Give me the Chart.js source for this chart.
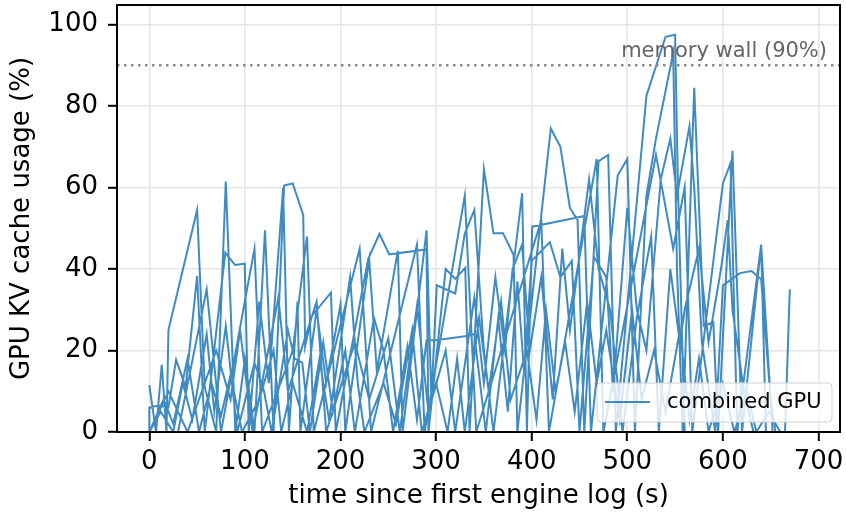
<!DOCTYPE html>
<html>
<head>
<meta charset="utf-8">
<script src="https://cdn.jsdelivr.net/npm/chart.js@4.4.0/dist/chart.umd.min.js"></script>
<style>
  html, body { margin: 0; padding: 0; background: #fff; }
  #wrap { width: 846px; height: 514px; }
</style>
</head>
<body>
<div id="wrap"><canvas id="grafico" width="846" height="514"></canvas></div>
<script>
// valores: [tempo (s), uso do cache KV (%)]
const passe1 = [[0,11.5],[7,0],[13,16.5],[18,0],[20,25],[50,54.5],[58,11],[70,0],[80,61.5],[90,0],[100,18],[110,0],[121,49.5],[130,0],[141,60.5],[150,61],[161,53.3],[163,21],[170,28.5],[190,34.2],[195,0],[229,42.5],[240.7,48.6],[251,43.6],[290,44.8],[292,0],[310,40],[320,37.6],[330.5,40.3],[335,0],[350,64.5],[360,48.8],[370,48.8],[381,43.5],[385,0],[420,74.5],[430,70],[440,55],[448,52],[455,0],[470,66.5],[480,68],[488,0],[520,82.5],[540,97],[550,97.5],[553,60],[560,0]];
const passe2 = [[0,0],[0,6],[10,6.5],[20,6],[28,17.7],[38,11],[50,38.3],[58,0],[79.5,44],[89.6,41],[99.8,41.3],[104,0],[115,32],[125,12],[140,60],[146,0],[155,32],[158,0],[175,30],[185,12],[200,31.3],[205,0],[230,42.3],[238,15],[260,44.5],[265,0],[290,49.5],[295,8],[300.7,36],[320,34],[330,48.7],[340,54.5],[350,20],[360,0],[390,58.6],[395,0],[400.5,50.4],[440,52.3],[455,53],[462,0],[490,63],[500,67],[508,0],[520,58],[530,72],[548,93],[552,40],[558,0],[570,84.5],[580,26],[590,27],[595,0],[610,69],[620,0],[640,46],[645,0]];
const passe3 = [[0,0],[12,5],[25,0],[35,12],[45,3],[60,24],[68,5],[80,26],[92,0],[110,17],[120,10],[128,0],[145,25],[152,18],[160,17],[168,0],[182,22],[192,5],[205,20],[215,0],[235,28],[245,20],[255,0],[270,21],[280,3],[290,22.5],[300,22.5],[330,23.5],[340,24],[352,0],[365,28],[375,5],[385,37],[392,15],[400,42],[419,46.6],[430,38],[442,42],[450,0],[465,43],[478,38],[485,10],[500,55],[510,30],[520,20],[535,62],[545,72],[552,58],[565,75],[570,60],[578,22],[592,0],[600,36],[618,39],[630,39.5],[640,37.5],[650,8],[655,0]];
const passe4 = [[0,0],[15,8],[25,2],[40,18],[52,0],[65,12],[75,4],[85,14],[97,0],[115,8],[130,20],[138,0],[150,12],[165,0],[178,18],[188,3],[210,38],[218,12],[225,0],[245,12],[258,2],[275,25],[285,0],[300,12],[312,0],[322,18],[330,0],[345,28],[355,10],[368,32],[378,8],[395,20],[405,3],[415,30],[425,10],[435,22],[445,5],[458,32],[468,12],[478,25],[492,3],[505,30],[515,8],[528,20],[540,5],[555,25],[565,3],[575,18],[585,0],[600,12],[612,0],[625,10],[635,0],[648,5],[660,0],[688,0]];
const passe5 = [[0,0],[30,0],[60,35],[75,0],[110,45],[118,0],[150,20],[165,48],[172,0],[220,45],[232,0],[280,46],[288,0],[330,58],[342,0],[410,52],[418,0],[468,67],[475,0],[530,68],[548,45],[560,60],[568,0],[600,61],[608,66],[615,0],[640,46],[652,0]];
const passe6 = [[0,0],[20,10],[40,0],[70,20],[85,8],[95,25],[108,0],[135,33],[145,10],[175,32],[185,0],[215,22],[230,8],[250,23],[262,0],[280,31],[292,5],[310,20],[320,0],[340,33],[350,12],[362,38],[372,20],[380,40],[390,46],[398,20],[410,38],[422,8],[432,45],[440,25],[460,62],[470,40],[482,30],[495,0],[510,28],[525,48],[533,0],[545,40],[555,22],[560,30],[575,45],[585,22],[598,40],[605,52],[610,30],[622,10],[632,0],[665,0],[670,35]];

const ticksX = [0, 100, 200, 300, 400, 500, 600, 700];
const ticksY = [0, 20, 40, 60, 80, 100];
const limiteMemoria = 90;
const rotuloSerie = 'combined GPU';
const rotuloLimite = 'memory wall (90%)';

const pontos = [passe1, passe2, passe3, passe4, passe5, passe6].flat().map(p => ({ x: p[0], y: p[1] }));

Chart.defaults.font.family = '"DejaVu Sans", sans-serif';
Chart.defaults.color = '#000';

// linha pontilhada, moldura e legenda desenhadas à mão
const extras = {
    id: 'extras',
    afterDatasetsDraw(chart) {
        const { ctx, chartArea: a, scales } = chart;
        const yLim = scales.y.getPixelForValue(limiteMemoria);
        ctx.save();
        ctx.strokeStyle = '#888';
        ctx.lineWidth = 2.5;
        ctx.setLineDash([2.5, 4.5]);
        ctx.beginPath();
        ctx.moveTo(a.left, yLim);
        ctx.lineTo(a.right, yLim);
        ctx.stroke();
        ctx.setLineDash([]);
        ctx.fillStyle = '#666';
        ctx.font = '21px "DejaVu Sans"';
        ctx.textAlign = 'right';
        ctx.textBaseline = 'alphabetic';
        ctx.fillText(rotuloLimite, a.right - 13, yLim - 8);

        // legenda
        const lx = 597, ly = 383, lw = 235, lh = 39;
        ctx.beginPath();
        ctx.roundRect(lx, ly, lw, lh, 4);
        ctx.fillStyle = 'rgba(255,255,255,0.8)';
        ctx.fill();
        ctx.strokeStyle = '#d0d0d0';
        ctx.lineWidth = 1;
        ctx.stroke();
        ctx.strokeStyle = 'rgba(31,119,180,0.85)';
        ctx.lineWidth = 2;
        ctx.beginPath();
        ctx.moveTo(lx + 8, ly + 19);
        ctx.lineTo(lx + 53, ly + 19);
        ctx.stroke();
        ctx.fillStyle = '#000';
        ctx.textAlign = 'left';
        ctx.textBaseline = 'middle';
        ctx.fillText(rotuloSerie, lx + 70, ly + 20);

        // moldura
        ctx.strokeStyle = '#000';
        ctx.lineWidth = 2;
        ctx.strokeRect(a.left, a.top, a.right - a.left, a.bottom - a.top);
        ctx.restore();
    }
};

new Chart(document.getElementById('grafico'), {
    type: 'line',
    data: {
        datasets: [{
            label: rotuloSerie,
            data: pontos,
            borderColor: 'rgba(31,119,180,0.85)',
            borderWidth: 2,
            pointRadius: 0,
            tension: 0,
            fill: false
        }]
    },
    options: {
        responsive: false,
        animation: false,
        devicePixelRatio: 1,
        layout: { padding: { top: 5, right: 6, left: 0, bottom: 0 } },
        plugins: { legend: { display: false }, tooltip: { enabled: false } },
        scales: {
            x: {
                type: 'linear',
                min: -33.8,
                max: 722.5,
                afterBuildTicks: s => { s.ticks = ticksX.map(v => ({ value: v })); },
                afterFit: s => { s.height = 82; s.paddingLeft = 0; s.paddingRight = 0; },
                ticks: { font: { size: 26 }, color: '#000', padding: 6, maxRotation: 0, autoSkip: false },
                grid: { color: '#e6e6e6', lineWidth: 1.6, tickLength: 9, tickColor: '#000', tickWidth: 2 },
                border: { display: false },
                title: { display: true, text: 'time since first engine log (s)', font: { size: 26 }, color: '#000', padding: { top: 0, bottom: 2 } }
            },
            y: {
                min: 0,
                max: 104.8,
                afterBuildTicks: s => { s.ticks = ticksY.map(v => ({ value: v })); },
                afterFit: s => { s.width = 117; s.paddingTop = 0; s.paddingBottom = 0; },
                ticks: { font: { size: 26 }, color: '#000', padding: 10, autoSkip: false },
                grid: { color: '#e6e6e6', lineWidth: 1.6, tickLength: 9, tickColor: '#000', tickWidth: 2 },
                border: { display: false },
                title: { display: true, text: 'GPU KV cache usage (%)', font: { size: 26 }, color: '#000', padding: { top: 7, bottom: 0 } }
            }
        }
    },
    plugins: [extras]
});
</script>
</body>
</html>
